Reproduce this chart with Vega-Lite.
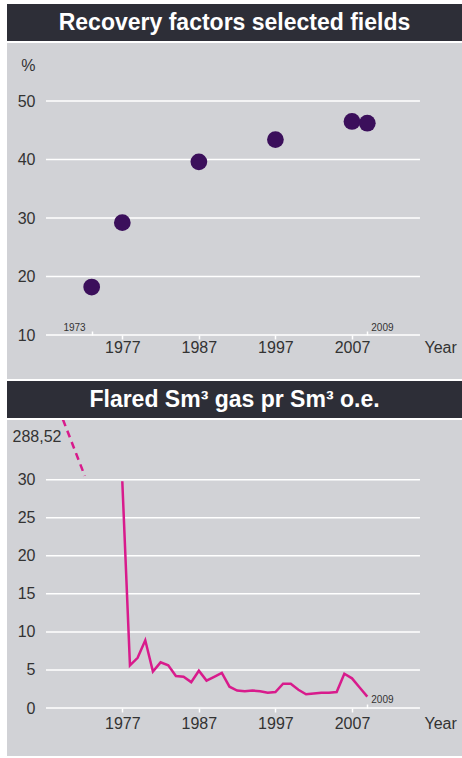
{
  "$schema": "https://vega.github.io/schema/vega-lite/v6.json",
  "background": "white",
  "padding": {"left": 7, "top": 4, "right": 0, "bottom": 2},
  "spacing": 2,
  "config": {"view": {"stroke": null}, "font": "Liberation Sans"},
  "vconcat": [
    {
      "width": 455,
      "height": 37,
      "view": {"fill": "#2d2e37", "stroke": null},
      "data": {"values": [{"title": "Recovery factors selected fields"}]},
      "mark": {"type": "text", "font": "Liberation Sans", "fontSize": 23, "fontWeight": "bold", "color": "white"},
      "encoding": {"text": {"field": "title", "type": "nominal"}}
    },
    {
      "width": 455,
      "height": 336,
      "view": {"fill": "#d1d2d6", "stroke": null},
      "data": {"values": [
        {"year": 1973, "value": 18.2},
        {"year": 1977, "value": 29.2},
        {"year": 1987, "value": 39.6},
        {"year": 1997, "value": 43.4},
        {"year": 2007, "value": 46.5},
        {"year": 2009, "value": 46.2}
      ]},
      "layer": [
        {
          "data": {"values": [{"value": 10}, {"value": 20}, {"value": 30}, {"value": 40}, {"value": 50}]},
          "mark": {"type": "rule", "color": "white", "strokeWidth": 1.5},
          "encoding": {
            "x": {"datum": 1967.03, "type": "quantitative", "scale": {"domain": [1961.94, 2021.37], "nice": false, "zero": false}},
            "x2": {"datum": 2015.88},
            "y": {"field": "value", "type": "quantitative", "scale": {"domain": [2.479, 59.915], "nice": false, "zero": false},
              "axis": {"values": [10, 20, 30, 40, 50, 56.15], "labelExpr": "datum.value > 55 ? '%' : datum.label", "grid": false, "domain": false, "ticks": false, "offset": -29, "labelPadding": 1, "labelFontSize": 16, "labelColor": "#333333", "labelFont": "Liberation Sans", "labelOverlap": false, "labelFlush": false, "title": null}}
          }
        },
        {
          "mark": {"type": "circle", "size": 280, "opacity": 1, "color": "#3b0f5b"},
          "encoding": {
            "x": {"field": "year", "type": "quantitative",
              "axis": {"values": [1973, 1977, 1987, 1997, 2007, 2009], "format": "d", "labelExpr": "datum.value == 1973 || datum.value == 2009 ? '' : datum.label", "grid": false, "domain": false, "ticks": true, "tickColor": "white", "tickWidth": 1.5, "tickSize": {"condition": {"test": "datum.value == 1973 || datum.value == 2009", "value": -4}, "value": 4}, "offset": -44, "labelPadding": 0, "labelFontSize": 16, "labelColor": "#333333", "labelFont": "Liberation Sans", "labelFlush": false, "labelOverlap": false, "title": "Year", "titleX": 417, "titleY": 12, "titleAlign": "left", "titleBaseline": "middle", "titleFontSize": 16, "titleFontWeight": "normal", "titleColor": "#333333", "titleFont": "Liberation Sans"}},
            "y": {"field": "value", "type": "quantitative"}
          }
        },
        {
          "transform": [{"filter": "datum.year == 1973"}],
          "mark": {"type": "text", "align": "right", "baseline": "alphabetic", "dx": -6, "dy": -4, "fontSize": 10, "color": "#333333"},
          "encoding": {
            "x": {"field": "year", "type": "quantitative"},
            "y": {"datum": 10, "type": "quantitative"},
            "text": {"field": "year", "type": "nominal"}
          }
        },
        {
          "transform": [{"filter": "datum.year == 2009"}],
          "mark": {"type": "text", "align": "left", "baseline": "alphabetic", "dx": 4, "dy": -4, "fontSize": 10, "color": "#333333"},
          "encoding": {
            "x": {"field": "year", "type": "quantitative"},
            "y": {"datum": 10, "type": "quantitative"},
            "text": {"field": "year", "type": "nominal"}
          }
        }
      ]
    },
    {
      "width": 455,
      "height": 37,
      "view": {"fill": "#2d2e37", "stroke": null},
      "data": {"values": [{"title": "Flared Sm³ gas pr Sm³ o.e."}]},
      "mark": {"type": "text", "font": "Liberation Sans", "fontSize": 23, "fontWeight": "bold", "color": "white"},
      "encoding": {"text": {"field": "title", "type": "nominal"}}
    },
    {
      "width": 455,
      "height": 336,
      "view": {"fill": "#d1d2d6", "stroke": null},
      "data": {"values": [
        {"year": 1977, "value": 29.8},
        {"year": 1978, "value": 5.6},
        {"year": 1979, "value": 6.6},
        {"year": 1980, "value": 8.9},
        {"year": 1981, "value": 4.8},
        {"year": 1982, "value": 6.0},
        {"year": 1983, "value": 5.6},
        {"year": 1984, "value": 4.2},
        {"year": 1985, "value": 4.1},
        {"year": 1986, "value": 3.4},
        {"year": 1987, "value": 4.9},
        {"year": 1988, "value": 3.6},
        {"year": 1989, "value": 4.1},
        {"year": 1990, "value": 4.6},
        {"year": 1991, "value": 2.8},
        {"year": 1992, "value": 2.3},
        {"year": 1993, "value": 2.2},
        {"year": 1994, "value": 2.3},
        {"year": 1995, "value": 2.2},
        {"year": 1996, "value": 2.0},
        {"year": 1997, "value": 2.1},
        {"year": 1998, "value": 3.2},
        {"year": 1999, "value": 3.2},
        {"year": 2000, "value": 2.4},
        {"year": 2001, "value": 1.8},
        {"year": 2002, "value": 1.9},
        {"year": 2003, "value": 2.0},
        {"year": 2004, "value": 2.0},
        {"year": 2005, "value": 2.1},
        {"year": 2006, "value": 4.5},
        {"year": 2007, "value": 3.9},
        {"year": 2008, "value": 2.7},
        {"year": 2009, "value": 1.5}
      ]},
      "layer": [
        {
          "data": {"values": [{"value": 0}, {"value": 5}, {"value": 10}, {"value": 15}, {"value": 20}, {"value": 25}, {"value": 30}]},
          "mark": {"type": "rule", "color": "white", "strokeWidth": 1.5},
          "encoding": {
            "x": {"datum": 1967.03, "type": "quantitative", "scale": {"domain": [1961.94, 2021.37], "nice": false, "zero": false}},
            "x2": {"datum": 2015.88},
            "y": {"field": "value", "type": "quantitative", "scale": {"domain": [-6.307, 37.845], "nice": false, "zero": false},
              "axis": {"values": [0, 5, 10, 15, 20, 25, 30, 35.69], "labelExpr": "datum.value > 31 ? '288,52' : datum.label", "grid": false, "domain": false, "ticks": false, "offset": -29, "labelPadding": {"condition": {"test": "datum.value > 31", "value": -25}, "value": 1}, "labelFontSize": 16, "labelColor": "#333333", "labelFont": "Liberation Sans", "labelOverlap": false, "labelFlush": false, "title": null}}
          }
        },
        {
          "data": {"values": [{"year": 1969.25, "value": 37.9}, {"year": 1972.1, "value": 30.5}]},
          "mark": {"type": "line", "color": "#d81b8c", "strokeWidth": 2.5, "strokeDash": [7, 5], "clip": true},
          "encoding": {
            "x": {"field": "year", "type": "quantitative"},
            "y": {"field": "value", "type": "quantitative"}
          }
        },
        {
          "mark": {"type": "line", "color": "#d81b8c", "strokeWidth": 2.5},
          "encoding": {
            "x": {"field": "year", "type": "quantitative",
              "axis": {"values": [1977, 1987, 1997, 2007, 2009], "format": "d", "labelExpr": "datum.value == 2009 ? '' : datum.label", "grid": false, "domain": false, "ticks": true, "tickColor": "white", "tickWidth": 1.5, "tickSize": {"condition": {"test": "datum.value == 2009", "value": -4}, "value": 4}, "offset": -48, "labelPadding": 3, "labelFontSize": 16, "labelColor": "#333333", "labelFont": "Liberation Sans", "labelFlush": false, "labelOverlap": false, "title": "Year", "titleX": 417, "titleY": 15, "titleAlign": "left", "titleBaseline": "middle", "titleFontSize": 16, "titleFontWeight": "normal", "titleColor": "#333333", "titleFont": "Liberation Sans"}},
            "y": {"field": "value", "type": "quantitative"}
          }
        },
        {
          "transform": [{"filter": "datum.year == 2009"}],
          "mark": {"type": "text", "align": "left", "baseline": "alphabetic", "dx": 4, "dy": -5, "fontSize": 10, "color": "#333333"},
          "encoding": {
            "x": {"field": "year", "type": "quantitative"},
            "y": {"datum": 0, "type": "quantitative"},
            "text": {"field": "year", "type": "nominal"}
          }
        }
      ]
    }
  ]
}
